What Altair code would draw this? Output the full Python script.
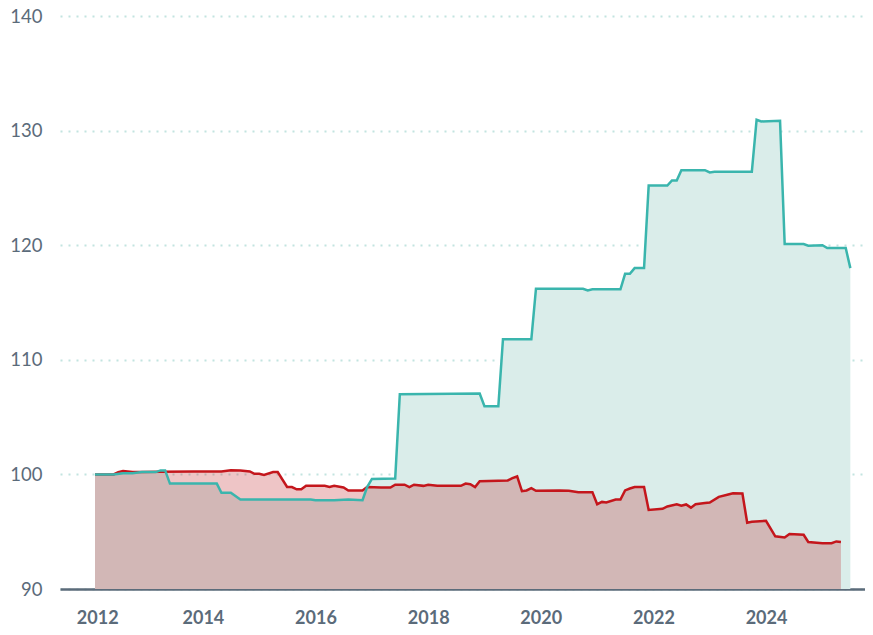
import altair as alt
import pandas as pd

teal_dates = ["2012-02-01","2012-06-01","2012-08-01","2012-10-01","2012-12-01","2013-03-01","2013-04-01","2013-05-01",
              "2013-06-01","2014-04-01","2014-05-01","2014-07-01","2014-09-01","2015-12-01","2016-01-01","2016-05-01",
              "2016-08-01","2016-11-01","2016-12-01","2017-01-01","2017-06-01","2017-07-01","2018-12-01","2019-01-01",
              "2019-04-01","2019-05-01","2019-11-01","2019-12-01","2020-10-01","2020-11-01","2020-12-01","2021-06-01",
              "2021-07-01","2021-08-01","2021-09-01","2021-11-01","2021-12-01","2022-04-01","2022-05-01","2022-06-01",
              "2022-07-01","2022-12-01","2023-01-01","2023-02-01","2023-10-01","2023-11-01","2023-12-01","2024-04-01",
              "2024-05-01","2024-09-01","2024-10-01","2025-01-01","2025-02-01","2025-06-01","2025-07-01"]
teal_values = [100.0,100.0,100.1,100.1,100.2,100.2,100.35,100.35,
               99.2,99.2,98.4,98.4,97.8,97.8,97.75,97.75,
               97.8,97.75,98.9,99.6,99.65,107.0,107.05,105.95,
               105.95,111.8,111.8,116.2,116.2,116.05,116.15,116.15,
               117.5,117.5,118.0,118.0,125.2,125.2,125.65,125.65,
               126.55,126.55,126.35,126.4,126.4,130.95,130.8,130.85,
               120.1,120.1,119.95,120.0,119.75,119.75,118.0]

red_dates = ["2012-02-01","2012-06-01","2012-07-01","2012-08-01","2012-10-01","2012-12-01","2013-04-01","2013-11-01",
             "2014-05-01","2014-07-01","2014-09-01","2014-11-01","2014-12-01","2015-01-01","2015-02-01","2015-04-01",
             "2015-05-01","2015-07-01","2015-08-01","2015-09-01","2015-10-01","2015-11-01","2016-03-01","2016-04-01",
             "2016-05-01","2016-07-01","2016-08-01","2016-11-01","2016-12-01","2017-03-01","2017-05-01","2017-06-01",
             "2017-08-01","2017-09-01","2017-10-01","2017-12-01","2018-01-01","2018-03-01","2018-08-01","2018-09-01",
             "2018-10-01","2018-11-01","2018-12-01","2019-06-01","2019-07-01","2019-08-01","2019-09-01","2019-10-01",
             "2019-11-01","2019-12-01","2020-05-01","2020-07-01","2020-09-01","2020-12-01","2021-01-01","2021-02-01",
             "2021-03-01","2021-05-01","2021-06-01","2021-07-01","2021-08-01","2021-09-01","2021-11-01","2021-12-01",
             "2022-03-01","2022-04-01","2022-06-01","2022-07-01","2022-08-01","2022-09-01","2022-10-01","2022-12-01",
             "2023-01-01","2023-03-01","2023-05-01","2023-06-01","2023-08-01","2023-09-01","2023-10-01","2024-01-01",
             "2024-03-01","2024-05-01","2024-06-01","2024-09-01","2024-10-01","2025-01-01","2025-03-01","2025-04-01",
             "2025-05-01"]
red_values = [100.0,100.0,100.2,100.3,100.2,100.22,100.23,100.26,
              100.26,100.37,100.35,100.26,100.05,100.05,99.96,100.2,
              100.2,98.9,98.9,98.7,98.7,99.0,99.0,98.9,
              99.0,98.86,98.6,98.6,98.9,98.86,98.86,99.1,
              99.1,98.9,99.1,99.0,99.1,99.0,99.0,99.2,
              99.15,98.9,99.4,99.47,99.67,99.82,98.54,98.6,
              98.8,98.57,98.6,98.57,98.45,98.45,97.4,97.6,
              97.55,97.8,97.8,98.6,98.77,98.9,98.9,96.9,
              97.0,97.2,97.4,97.26,97.38,97.1,97.4,97.5,
              97.55,98.04,98.25,98.36,98.33,95.78,95.86,95.95,
              94.6,94.5,94.8,94.73,94.1,94.0,94.0,94.15,
              94.1]

y_ticks = [90, 100, 110, 120, 130, 140]

teal_df = pd.DataFrame({"date": teal_dates, "value": teal_values})
red_df = pd.DataFrame({"date": red_dates, "value": red_values})

FONT = "Lato"
AXIS_COL = "#5b6b7a"
TEAL = "#3ab5ad"
RED = "#c4161c"

x_enc = alt.X(
    "date:T",
    scale=alt.Scale(type="utc",
                    domain=[alt.DateTime(year=2011, month=6, date=19, utc=True),
                            alt.DateTime(year=2025, month=10, date=4, utc=True)]),
    axis=alt.Axis(
        title=None, format="%Y", tickCount={"interval": "year", "step": 2},
        grid=False, ticks=False, domain=True, domainColor=AXIS_COL, domainWidth=2.5,
        labelFont=FONT, labelFontSize=18, labelFontWeight="bold", labelColor=AXIS_COL,
        labelPadding=20,
        labelOffset={"condition": {"test": "utcyear(datum.value) == 2012", "value": 7}, "value": 0},
    ),
)
y_enc = alt.Y(
    "value:Q",
    scale=alt.Scale(domain=[90, 140], zero=False, nice=False),
    axis=alt.Axis(
        title=None, values=y_ticks, grid=True, gridColor="#c2e4e0", gridDash=[2, 6], gridWidth=2,
        ticks=False, domain=False, labelFont=FONT, labelFontSize=18.5, labelColor=AXIS_COL,
        labelPadding=18,
    ),
)

teal_area = alt.Chart(teal_df).mark_area(color="#daedea", opacity=1).encode(
    x=x_enc, y=y_enc, y2=alt.datum(90))
red_area = alt.Chart(red_df).mark_area(color="#be1e23", opacity=0.26).encode(
    x=x_enc, y=y_enc, y2=alt.datum(90))
red_line = alt.Chart(red_df).mark_line(color=RED, strokeWidth=2.5).encode(x=x_enc, y=y_enc)
teal_line = alt.Chart(teal_df).mark_line(color=TEAL, strokeWidth=2.5).encode(x=x_enc, y=y_enc)

chart = alt.layer(teal_area, red_area, red_line, teal_line).properties(
    width=805, height=573,
    autosize=alt.AutoSizeParams(type="none"),
    padding={"left": 52, "top": 8, "right": 0, "bottom": 38},
).configure_view(stroke=None)

chart.save("out.html", embed_options={"renderer": "svg", "actions": False})
